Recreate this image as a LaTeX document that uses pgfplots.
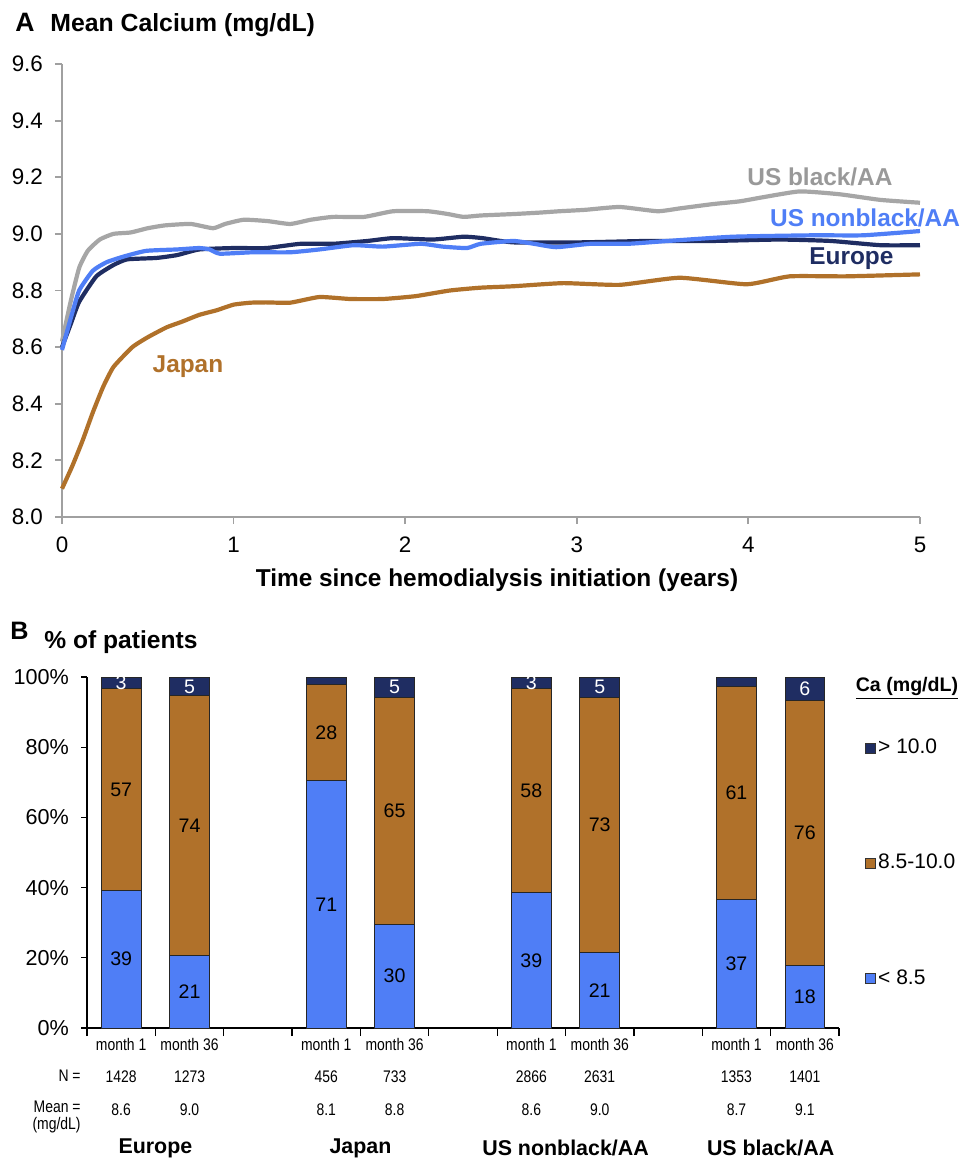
\documentclass[border=0pt]{standalone}
\usepackage{fontspec}
\setmainfont{Liberation Sans}
\newfontfamily\narrow[FakeStretch=0.83]{Liberation Sans}
\usepackage{pgfplots}
\pgfplotsset{compat=1.18}
\usepackage{pgfplotstable}
\definecolor{axisgray}{HTML}{A0A0A0}
\definecolor{cgray}{HTML}{A6A6A6}
\definecolor{cblue}{HTML}{4F7EF6}
\definecolor{cnavy}{HTML}{1F2D62}
\definecolor{corange}{HTML}{B0712A}
\tikzset{segl/.style={font=\fontsize{9.8}{11}\selectfont, inner sep=0pt},
         grp/.style={font=\bfseries\fontsize{10.7}{12}\selectfont, inner sep=0pt, yshift=-60pt},
         llab/.style={font=\bfseries\fontsize{12.2}{14}\selectfont, inner sep=0pt}}

\pgfplotstableread{
t v
0 8.62
0.05 8.76
0.10 8.88
0.15 8.94
0.22 8.98
0.30 9.00
0.40 9.005
0.50 9.02
0.60 9.03
0.75 9.035
0.88 9.02
0.95 9.035
1.06 9.05
1.20 9.045
1.33 9.035
1.45 9.05
1.58 9.06
1.76 9.06
1.93 9.08
2.13 9.08
2.25 9.07
2.34 9.06
2.44 9.065
2.63 9.07
2.78 9.075
2.90 9.08
3.05 9.085
3.25 9.095
3.47 9.08
3.60 9.09
3.79 9.105
3.95 9.115
4.09 9.13
4.30 9.15
4.53 9.14
4.77 9.12
5.00 9.11
}\usblack

\pgfplotstableread{
t v
0 8.60
0.05 8.68
0.10 8.76
0.20 8.85
0.30 8.89
0.38 8.91
0.55 8.915
0.67 8.925
0.80 8.945
1.00 8.95
1.19 8.95
1.39 8.965
1.58 8.965
1.78 8.975
1.93 8.985
2.16 8.98
2.34 8.99
2.45 8.985
2.63 8.97
3.02 8.97
3.41 8.975
3.79 8.975
4.18 8.98
4.48 8.975
4.77 8.96
5.00 8.96
}\europe

\pgfplotstableread{
t v
0 8.59
0.05 8.70
0.10 8.80
0.18 8.87
0.26 8.90
0.36 8.92
0.49 8.94
0.67 8.945
0.80 8.95
0.86 8.945
0.92 8.93
1.11 8.935
1.33 8.935
1.50 8.945
1.70 8.96
1.87 8.955
2.09 8.965
2.22 8.955
2.36 8.95
2.44 8.965
2.63 8.975
2.75 8.965
2.88 8.953
3.08 8.965
3.30 8.965
3.53 8.975
3.91 8.99
4.38 8.995
4.67 8.995
5.00 9.01
}\usnonblack

\pgfplotstableread{
t v
0 8.10
0.06 8.18
0.12 8.27
0.18 8.37
0.24 8.46
0.30 8.53
0.41 8.60
0.50 8.635
0.61 8.67
0.70 8.69
0.80 8.714
0.90 8.73
1.00 8.75
1.10 8.757
1.19 8.758
1.33 8.757
1.50 8.777
1.68 8.77
1.87 8.77
2.06 8.78
2.26 8.80
2.44 8.81
2.63 8.815
2.92 8.826
3.25 8.82
3.60 8.845
3.99 8.822
4.24 8.85
4.57 8.85
5.00 8.857
}\japan

\pgfplotstableread{
x lo mid hi
0 39.3 57.3 3.4
1 20.8 73.8 5.4
3 70.4 27.6 2.0
4 29.6 64.7 5.7
6 38.5 58.1 3.4
7 21.4 72.9 5.7
9 36.5 60.7 2.8
10 17.7 75.7 6.6
}\bardata

\begin{document}
\begin{tikzpicture}[x=1pt,y=1pt]
\useasboundingbox (0,0) rectangle (481,-580.5);

% Panel A headings
\node[font=\bfseries\fontsize{13.3}{15}\selectfont, inner sep=0pt] at (12.5,-11) {A};
\node[font=\bfseries\fontsize{12.4}{14}\selectfont, anchor=west, inner sep=0pt] at (25,-12.5) {Mean Calcium (mg/dL)};

\begin{axis}[
  at={(31pt,-258.5pt)}, anchor=south west, scale only axis,
  width=429pt, height=226.5pt,
  xmin=0, xmax=5, ymin=8.0, ymax=9.6,
  axis x line*=bottom, axis y line*=left,
  axis line style={draw=axisgray, line width=0.9pt, -},
  tick style={draw=axisgray, line width=0.9pt},
  tick align=outside, major tick length=3.5pt,
  xtick={0,1,2,3,4,5},
  ytick={8.0,8.2,8.4,8.6,8.8,9.0,9.2,9.4,9.6},
  /pgf/number format/assume math mode=true,
  yticklabel style={/pgf/number format/.cd, fixed, fixed zerofill, precision=1, /tikz/.cd, xshift=-2.5pt},
  xticklabel style={yshift=-3pt},
  tick label style={font=\fontsize{11.2}{13}\selectfont},
  clip=false,
  xlabel={Time since hemodialysis initiation (years)},
  xlabel style={font=\bfseries\fontsize{12.2}{14}\selectfont, at={(axis description cs:0.507,0)}, anchor=center, yshift=-31.5pt},
]
\addplot[cgray, line width=2.1pt, line join=round, smooth, tension=0.3] table[x=t,y=v] {\usblack};
\addplot[cnavy, line width=2.1pt, line join=round, smooth, tension=0.3] table[x=t,y=v] {\europe};
\addplot[cblue, line width=2.1pt, line join=round, smooth, tension=0.3] table[x=t,y=v] {\usnonblack};
\addplot[corange, line width=2.1pt, line join=round, smooth, tension=0.3] table[x=t,y=v] {\japan};
\node[llab, text=cgray!92!black] at (axis cs:4.417,9.201) {US black/AA};
\node[llab, text=cblue] at (axis cs:4.68,9.056) {US nonblack/AA};
\node[llab, text=cnavy] at (axis cs:4.60,8.911) {Europe};
\node[llab, text=corange] at (axis cs:0.734,8.53) {Japan};
\end{axis}

% Panel B headings
\node[font=\bfseries\fontsize{12.6}{14}\selectfont, inner sep=0pt] at (9.75,-315.5) {B};
\node[font=\bfseries\fontsize{12.3}{14}\selectfont, anchor=west, inner sep=0pt] at (22,-321) {\% of patients};

\begin{axis}[
  at={(43.5pt,-514pt)}, anchor=south west, scale only axis,
  width=376pt, height=175.5pt,
  ybar stacked, bar width=0.58,
  xmin=-0.5, xmax=10.5, ymin=0, ymax=100,
  axis x line*=bottom, axis y line*=left,
  axis line style={black, line width=0.6pt, -},
  tick style={black, line width=0.6pt},
  tick align=outside, major tick length=3pt, minor tick length=4pt,
  ytick={0,20,40,60,80,100},
  /pgf/number format/assume math mode=true,
  yticklabel={\pgfmathprintnumber{\tick}\%},
  yticklabel style={font=\fontsize{10.8}{12}\selectfont, xshift=-2.5pt},
  xtick={0,1,3,4,6,7,9,10},
  major x tick style={draw=none},
  minor xtick={-0.5,0.5,1.5,2.5,3.5,4.5,5.5,6.5,7.5,8.5,9.5,10.5},
  xticklabels={{month 1\\1428\\8.6},{month 36\\1273\\9.0},{month 1\\456\\8.1},{month 36\\733\\8.8},{month 1\\2866\\8.6},{month 36\\2631\\9.0},{month 1\\1353\\8.7},{month 36\\1401\\9.1}},
  xticklabel style={align=center, font=\narrow\fontsize{8.4}{16.25}\selectfont, yshift=1.5pt},
  clip=false,
  legend image code/.code={\draw[#1, draw=black!80, line width=0.4pt] (0pt,-2.5pt) rectangle (5pt,2.5pt);},
  reverse legend,
  legend style={at={(rel axis cs:1,1)}, anchor=north west, xshift=13pt, yshift=-29.5pt, draw=none, fill=none,
    inner sep=0pt, row sep=46pt,
    nodes={inner sep=1pt, text height=7.6pt, text depth=2pt, anchor=west, font=\fontsize{10.5}{12}\selectfont}},
  legend cell align=left,
]
\addplot[fill=cblue, draw=black!85, line width=0.5pt] table[x=x,y=lo] {\bardata};
\addplot[fill=corange, draw=black!85, line width=0.5pt] table[x=x,y=mid] {\bardata};
\addplot[fill=cnavy, draw=black!85, line width=0.5pt] table[x=x,y=hi] {\bardata};
\legend{{< 8.5},{8.5-10.0},{> 10.0}}
\coordinate (a1) at (axis cs:0,19.6);
\coordinate (a2) at (axis cs:0,67.9);
\coordinate (a3) at (axis cs:0,98.5);
\coordinate (b1) at (axis cs:1,10.4);
\coordinate (b2) at (axis cs:1,57.7);
\coordinate (b3) at (axis cs:1,97.3);
\coordinate (c1) at (axis cs:3,35.2);
\coordinate (c2) at (axis cs:3,84.2);
\coordinate (d1) at (axis cs:4,14.8);
\coordinate (d2) at (axis cs:4,61.9);
\coordinate (d3) at (axis cs:4,97.1);
\coordinate (e1) at (axis cs:6,19.3);
\coordinate (e2) at (axis cs:6,67.6);
\coordinate (e3) at (axis cs:6,98.5);
\coordinate (f1) at (axis cs:7,10.7);
\coordinate (f2) at (axis cs:7,57.8);
\coordinate (f3) at (axis cs:7,97.1);
\coordinate (g1) at (axis cs:9,18.3);
\coordinate (g2) at (axis cs:9,66.9);
\coordinate (h1) at (axis cs:10,8.9);
\coordinate (h2) at (axis cs:10,55.6);
\coordinate (h3) at (axis cs:10,96.7);
\node[grp] at (axis cs:0.5,0) {Europe};
\node[grp] at (axis cs:3.5,0) {Japan};
\node[grp] at (axis cs:6.5,0) {US nonblack/AA};
\node[grp] at (axis cs:9.5,0) {US black/AA};
\end{axis}
% segment labels (on top of the bars)
\node[segl] at (a1) {39};
\node[segl] at (a2) {57};
\node[segl, text=white] at (a3) {3};
\node[segl] at (b1) {21};
\node[segl] at (b2) {74};
\node[segl, text=white] at (b3) {5};
\node[segl] at (c1) {71};
\node[segl] at (c2) {28};
\node[segl] at (d1) {30};
\node[segl] at (d2) {65};
\node[segl, text=white] at (d3) {5};
\node[segl] at (e1) {39};
\node[segl] at (e2) {58};
\node[segl, text=white] at (e3) {3};
\node[segl] at (f1) {21};
\node[segl] at (f2) {73};
\node[segl, text=white] at (f3) {5};
\node[segl] at (g1) {37};
\node[segl] at (g2) {61};
\node[segl] at (h1) {18};
\node[segl] at (h2) {76};
\node[segl, text=white] at (h3) {6};

% row headings
\node[anchor=east, font=\narrow\fontsize{8.4}{9}\selectfont, inner sep=0pt] at (40.5,-538) {N =};
\node[anchor=east, font=\narrow\fontsize{8.4}{8.4}\selectfont, inner sep=0pt, align=right] at (40.5,-558.5) {Mean =\\(mg/dL)};
% legend title
\node[font=\bfseries\fontsize{9.8}{11}\selectfont, inner sep=0pt] at (453.5,-344) {\underline{Ca (mg/dL)}};
\end{tikzpicture}
\end{document}
